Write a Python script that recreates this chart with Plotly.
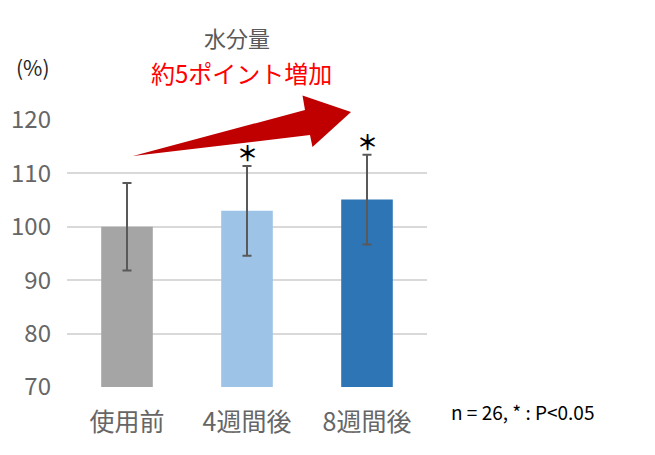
import plotly.graph_objects as go

# data
categories = ["使用前", "4週間後", "8週間後"]
values = [100, 103, 105.1]
errors = [8.2, 8.4, 8.4]
significant = [False, True, True]
bar_colors = ["#A5A5A5", "#9DC3E6", "#2E75B6"]
y_ticks = [70, 80, 90, 100, 110, 120]

# the page puts the figure 8px in from the top-left corner
OFF = 8
W, H = 655 - OFF, 455 - OFF
L, R, T, B = 67 - OFF, 228, 120 - OFF, 68
plot_w = W - L - R
plot_h = H - T - B
FONT = "Noto Sans CJK JP"


def px(x, y):
    # page pixel position -> paper coords
    return (x - OFF - L) / plot_w, (H - B - (y - OFF)) / plot_h


fig = go.Figure(go.Bar(
    x=categories, y=values,
    marker=dict(color=bar_colors, line=dict(width=0)),
    error_y=dict(type="data", array=errors, visible=True,
                 color="#595959", thickness=2, width=4.5),
    width=0.43,
))

# significance marks
for cat, v, e, s in zip(categories, values, errors, significant):
    if s:
        fig.add_annotation(x=cat, y=v + e, text="＊", showarrow=False,
                           xanchor="center", yanchor="middle", yshift=14,
                           font=dict(family=FONT, size=21, color="#000000",
                                     weight="bold"))

# big red arrow
pts = [(133, 156), (305, 110), (302.5, 95.5), (351, 112), (312.5, 147), (310, 135)]
path = "M " + " L ".join("%.4f,%.4f" % px(x, y) for x, y in pts) + " Z"
fig.add_shape(type="path", path=path, xref="paper", yref="paper",
              fillcolor="#C00000", line=dict(width=0), layer="above")


def label(x, y, text, size, color):
    xp, yp = px(x, y)
    fig.add_annotation(x=xp, y=yp, xref="paper", yref="paper", text=text,
                       showarrow=False, xanchor="center", yanchor="middle",
                       font=dict(family=FONT, size=size, color=color))


label(237, 37, "水分量", 22, "#595959")
label(241, 72, "約5ポイント増加", 24, "#FF0000")
label(33, 67, "(%)", 21, "#262626")
label(522, 411, "n = 26, * : P<0.05", 19, "#000000")

fig.update_layout(
    width=W, height=H,
    margin=dict(l=L, r=R, t=T, b=B, autoexpand=False),
    paper_bgcolor="white", plot_bgcolor="white",
    showlegend=False,
    font=dict(family=FONT, color="#595959"),
)
fig.update_xaxes(showgrid=False, showline=False, ticks="", automargin=False,
                 ticklabelstandoff=18,
                 tickfont=dict(size=25, color="#666666"))
fig.update_yaxes(range=[70, 120], tickvals=y_ticks, showgrid=True,
                 gridcolor="#D9D9D9", gridwidth=2, zeroline=False,
                 showline=False, ticks="", ticklabelstandoff=15, automargin=False,
                 tickfont=dict(size=24, color="#666666"))

fig.write_html("out.html")
